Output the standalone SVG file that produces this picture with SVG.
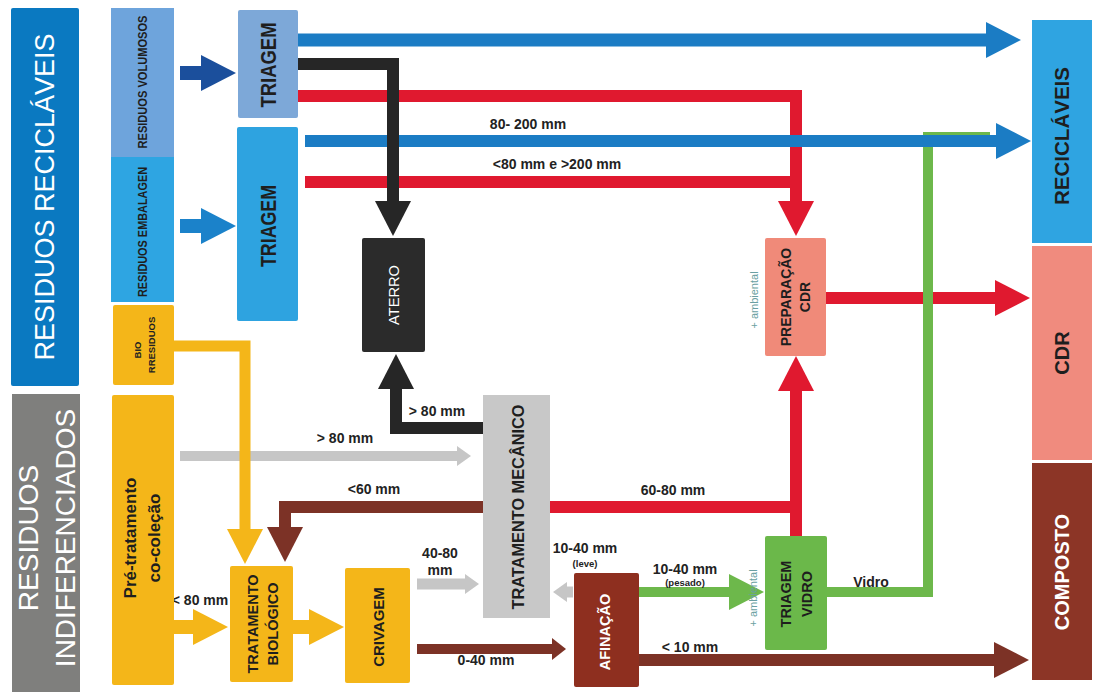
<svg xmlns="http://www.w3.org/2000/svg" width="1097" height="697" viewBox="0 0 1097 697">
<style>
.t{font-family:"Liberation Sans",Arial,sans-serif;}
.lbl{font-family:"Liberation Sans",Arial,sans-serif;font-weight:bold;font-size:14px;fill:#222;text-anchor:middle;}
.sm{font-family:"Liberation Sans",Arial,sans-serif;font-weight:bold;font-size:9.5px;fill:#222;text-anchor:middle;}
.bx{font-family:"Liberation Sans",Arial,sans-serif;font-weight:bold;fill:#1e1e1e;text-anchor:middle;}
.amb{font-family:"Liberation Sans",Arial,sans-serif;font-size:11px;fill:#6a9fa2;text-anchor:middle;}
.ln{fill:none;stroke-linejoin:miter;stroke-linecap:butt;}
</style>
<defs>
<marker id="hDk" markerUnits="userSpaceOnUse" viewBox="0 0 35 36" markerWidth="35" markerHeight="36" refX="1" refY="18" orient="auto"><path d="M0,0 L35,18 L0,36 z" fill="#1b4f9c"/></marker>
<marker id="hB2" markerUnits="userSpaceOnUse" viewBox="0 0 35 36" markerWidth="35" markerHeight="36" refX="1" refY="18" orient="auto"><path d="M0,0 L35,18 L0,36 z" fill="#1b82ca"/></marker>
<marker id="hB" markerUnits="userSpaceOnUse" viewBox="0 0 35 36" markerWidth="35" markerHeight="36" refX="1" refY="18" orient="auto"><path d="M0,0 L35,18 L0,36 z" fill="#1b7cc4"/></marker>
<marker id="hK" markerUnits="userSpaceOnUse" viewBox="0 0 35 36" markerWidth="35" markerHeight="36" refX="1" refY="18" orient="auto"><path d="M0,0 L35,18 L0,36 z" fill="#262626"/></marker>
<marker id="hR" markerUnits="userSpaceOnUse" viewBox="0 0 35 36" markerWidth="35" markerHeight="36" refX="1" refY="18" orient="auto"><path d="M0,0 L35,18 L0,36 z" fill="#e0192f"/></marker>
<marker id="hY" markerUnits="userSpaceOnUse" viewBox="0 0 35 36" markerWidth="35" markerHeight="36" refX="1" refY="18" orient="auto"><path d="M0,0 L35,18 L0,36 z" fill="#f4b619"/></marker>
<marker id="hN" markerUnits="userSpaceOnUse" viewBox="0 0 35 36" markerWidth="35" markerHeight="36" refX="1" refY="18" orient="auto"><path d="M0,0 L35,18 L0,36 z" fill="#7c3226"/></marker>
<marker id="hG" markerUnits="userSpaceOnUse" viewBox="0 0 35 36" markerWidth="35" markerHeight="36" refX="1" refY="18" orient="auto"><path d="M0,0 L35,18 L0,36 z" fill="#6db84b"/></marker>
<marker id="hGr" markerUnits="userSpaceOnUse" viewBox="0 0 14 20" markerWidth="14" markerHeight="20" refX="1" refY="10" orient="auto"><path d="M0,0 L14,10 L0,20 z" fill="#c6c6c6"/></marker>
<marker id="hNs" markerUnits="userSpaceOnUse" viewBox="0 0 14 22" markerWidth="14" markerHeight="22" refX="1" refY="11" orient="auto"><path d="M0,0 L14,11 L0,22 z" fill="#7c3226"/></marker>
</defs>
<rect width="1097" height="697" fill="#fff"/>

<g id="connectors" class="ln">
<path d="M180,73 H202" stroke="#1b4f9c" stroke-width="14" marker-end="url(#hDk)"/>
<path d="M180,226 H202" stroke="#1b82ca" stroke-width="14" marker-end="url(#hB2)"/>
<path d="M298,40 H987" stroke="#1b7cc4" stroke-width="13" marker-end="url(#hB)"/>
<path d="M298,96 H796 V202" stroke="#e0192f" stroke-width="12" marker-end="url(#hR)"/>
<path d="M305,182 H796" stroke="#e0192f" stroke-width="12"/>
<path d="M826,298 H996" stroke="#e0192f" stroke-width="12" marker-end="url(#hR)"/>
<path d="M827,592 H928 V137 H990" stroke="#6db84b" stroke-width="10"/>
<path d="M305,141 H997" stroke="#1b7cc4" stroke-width="12" marker-end="url(#hB)"/>
<path d="M298,64 H393 V202" stroke="#262626" stroke-width="12" marker-end="url(#hK)"/>
<path d="M483,428 H396 V388" stroke="#262626" stroke-width="12" marker-end="url(#hK)"/>
<path d="M180,456 H458" stroke="#c6c6c6" stroke-width="10" marker-end="url(#hGr)"/>
<path d="M483,507 H285 V528" stroke="#7c3226" stroke-width="12" marker-end="url(#hN)"/>
<path d="M174,346 H245 V530" stroke="#f4b619" stroke-width="11" marker-end="url(#hY)"/>
<path d="M174,627 H194" stroke="#f4b619" stroke-width="14" marker-end="url(#hY)"/>
<path d="M292,627 H310" stroke="#f4b619" stroke-width="14" marker-end="url(#hY)"/>
<path d="M417,584 H466" stroke="#c6c6c6" stroke-width="11" marker-end="url(#hGr)"/>
<path d="M417,649 H553" stroke="#7c3226" stroke-width="10" marker-end="url(#hNs)"/>
<path d="M573,592 H566" stroke="#c6c6c6" stroke-width="11" marker-end="url(#hGr)"/>
<path d="M639,592 H730" stroke="#6db84b" stroke-width="10" marker-end="url(#hG)"/>
<path d="M550,507 H796" stroke="#e0192f" stroke-width="12"/>
<path d="M796,536 V390" stroke="#e0192f" stroke-width="12" marker-end="url(#hR)"/>
<path d="M639,660 H995" stroke="#7c3226" stroke-width="12" marker-end="url(#hN)"/>
</g>

<g id="labels">
<text class="lbl" x="528" y="129">80- 200 mm</text>
<text class="lbl" x="557" y="169">&lt;80 mm e &gt;200 mm</text>
<text class="lbl" x="345" y="443">&gt; 80 mm</text>
<text class="lbl" x="437" y="416">&gt; 80 mm</text>
<text class="lbl" x="374" y="494">&lt;60 mm</text>
<text class="lbl" x="673" y="495">60-80 mm</text>
<text class="lbl" x="200" y="605">&lt; 80 mm</text>
<text class="lbl" x="440" y="558">40-80</text>
<text class="lbl" x="440" y="575">mm</text>
<text class="lbl" x="486" y="665">0-40 mm</text>
<text class="lbl" x="585" y="553">10-40 mm</text>
<text class="lbl" x="585" y="567" style="font-size:9.5px">(leve)</text>
<text class="lbl" x="685" y="574">10-40 mm</text>
<text class="lbl" x="685" y="586" style="font-size:9.5px">(pesado)</text>
<text class="lbl" x="871" y="587">Vidro</text>
<text class="lbl" x="690" y="652">&lt; 10 mm</text>
</g>

<g id="banner-reciclaveis">
<rect x="11" y="8" width="68" height="378" rx="2" fill="#0a79c1"/>
<text class="t" transform="translate(54,197) rotate(-90)" text-anchor="middle" font-size="27" fill="#fff">RESIDUOS RECICLÁVEIS</text>
</g>
<g id="banner-indiferenciados">
<rect x="12" y="394" width="68" height="298" fill="#7f7f7d"/>
<text class="t" transform="translate(38,538) rotate(-90)" text-anchor="middle" font-size="28" fill="#fff">RESIDUOS</text>
<text class="t" transform="translate(75,538) rotate(-90)" text-anchor="middle" font-size="28" fill="#fff">INDIFERENCIADOS</text>
</g>

<g id="residuos-volumosos">
<rect x="111" y="8" width="63" height="149" fill="#6ea4dc"/>
<text class="bx" transform="translate(147,82) rotate(-90)" font-size="12" textLength="133" lengthAdjust="spacingAndGlyphs">RESIDUOS VOLUMOSOS</text>
</g>
<g id="residuos-embalagem">
<rect x="111" y="157" width="63" height="145" fill="#2ea5e2"/>
<text class="bx" transform="translate(147,232) rotate(-90)" font-size="12" textLength="130" lengthAdjust="spacingAndGlyphs">RESIDUOS EMBALAGEN</text>
</g>
<g id="bio-residuos">
<rect x="113" y="305" width="61" height="80" rx="2" fill="#f4b619"/>
<text class="sm" transform="translate(141,350) rotate(-90)">BIO</text>
<text class="sm" transform="translate(155,345) rotate(-90)">RRESIDUOS</text>
</g>
<g id="pre-tratamento">
<rect x="112" y="395" width="62" height="290" rx="2" fill="#f4b619"/>
<text class="bx" transform="translate(136,538) rotate(-90)" font-size="17">Pré-tratamento</text>
<text class="bx" transform="translate(160,538) rotate(-90)" font-size="17">co-coleção</text>
</g>

<g id="triagem-1">
<rect x="238" y="10" width="60" height="108" rx="2" fill="#7da8d8"/>
<text class="bx" transform="translate(276,65) rotate(-90)" font-size="22" textLength="85" lengthAdjust="spacingAndGlyphs">TRIAGEM</text>
</g>
<g id="triagem-2">
<rect x="237" y="127" width="61" height="194" rx="2" fill="#2ea3e0"/>
<text class="bx" transform="translate(276,226) rotate(-90)" font-size="22" textLength="82" lengthAdjust="spacingAndGlyphs">TRIAGEM</text>
</g>

<g id="aterro">
<rect x="362" y="238" width="63" height="114" rx="2" fill="#2b2b2b"/>
<text class="t" transform="translate(399,295) rotate(-90)" text-anchor="middle" font-size="14" fill="#fff" textLength="60" lengthAdjust="spacingAndGlyphs">ATERRO</text>
</g>

<g id="tratamento-mecanico">
<rect x="483" y="395" width="67" height="223" fill="#c8c8c8"/>
<text class="bx" transform="translate(524,507) rotate(-90)" font-size="16" textLength="205" lengthAdjust="spacingAndGlyphs">TRATAMENTO MECÂNICO</text>
</g>

<g id="tratamento-biologico">
<rect x="230" y="566" width="63" height="116" rx="2" fill="#f4b619"/>
<text class="bx" transform="translate(258,624) rotate(-90)" font-size="14.5">TRATAMENTO</text>
<text class="bx" transform="translate(278,624) rotate(-90)" font-size="14.5">BIOLÓGICO</text>
</g>

<g id="crivagem">
<rect x="345" y="568" width="65" height="115" rx="2" fill="#f4b619"/>
<text class="bx" transform="translate(384,627) rotate(-90)" font-size="15">CRIVAGEM</text>
</g>

<g id="afinacao">
<rect x="574" y="573" width="65" height="114" rx="2" fill="#8e2f1f"/>
<text class="bx" transform="translate(610,632) rotate(-90)" font-size="14.5" style="fill:#fff">AFINAÇÃO</text>
</g>

<g id="preparacao-cdr">
<rect x="765" y="238" width="61" height="118" rx="2" fill="#f08a79"/>
<text class="amb" transform="translate(758,300) rotate(-90)">+ ambiental</text>
<text class="bx" transform="translate(791,297) rotate(-90)" font-size="14">PREPARAÇÃO</text>
<text class="bx" transform="translate(810,297) rotate(-90)" font-size="14">CDR</text>
</g>

<g id="triagem-vidro">
<rect x="765" y="536" width="62" height="114" rx="2" fill="#6bb84a"/>
<text class="amb" transform="translate(757,598) rotate(-90)">+ ambiental</text>
<text class="bx" transform="translate(791,594) rotate(-90)" font-size="14.5">TRIAGEM</text>
<text class="bx" transform="translate(812,594) rotate(-90)" font-size="14.5">VIDRO</text>
</g>

<g id="out-reciclaveis">
<rect x="1032" y="20" width="60" height="223" fill="#2fa4e1"/>
<text class="bx" transform="translate(1069,136) rotate(-90)" font-size="20" textLength="138" lengthAdjust="spacingAndGlyphs">RECICLÁVEIS</text>
</g>
<g id="out-cdr">
<rect x="1032" y="246" width="60" height="214" fill="#f08b7e"/>
<text class="bx" transform="translate(1069,353) rotate(-90)" font-size="20">CDR</text>
</g>
<g id="out-composto">
<rect x="1032" y="463" width="60" height="217" fill="#8c3526"/>
<text class="bx" transform="translate(1069,572) rotate(-90)" font-size="20" style="fill:#fff">COMPOSTO</text>
</g>
</svg>
